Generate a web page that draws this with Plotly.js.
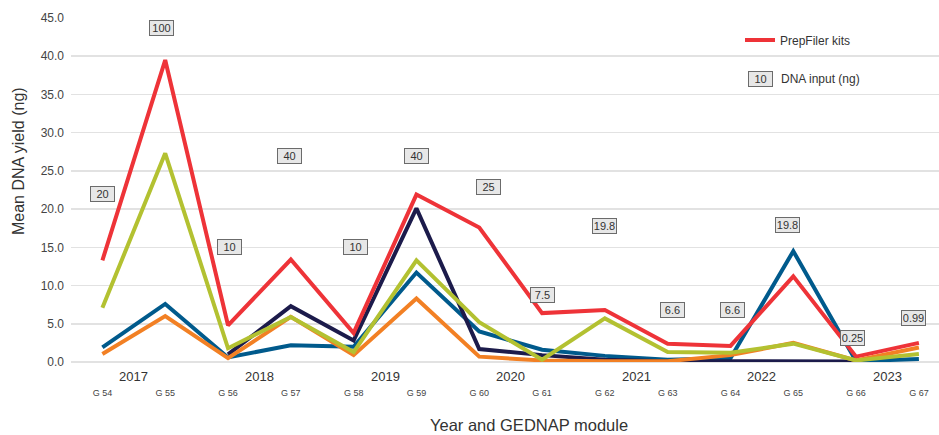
<!DOCTYPE html>
<html>
<head>
<meta charset="utf-8">
<script src="https://cdn.plot.ly/plotly-3.0.1.min.js"></script>
<style>html,body{margin:0;padding:0;background:#fff;}#chart{width:939px;height:435px;}</style>
</head>
<body>
<div id="chart"></div>
<script>
// ---- data ----
const modules = ["G 54","G 55","G 56","G 57","G 58","G 59","G 60","G 61","G 62","G 63","G 64","G 65","G 66","G 67"];
const years = ["2017","2018","2019","2020","2021","2022","2023"];
const prepFiler = [13.3, 39.5, 4.8, 13.4, 3.8, 21.9, 17.6, 6.4, 6.8, 2.4, 2.1, 11.2, 0.7, 2.5];
const seriesBlue = [1.9, 7.6, 0.6, 2.2, 2.0, 11.7, 4.0, 1.6, 0.8, 0.3, 0.5, 14.5, 0.1, 0.4];
const seriesNavy = [null, null, 1.0, 7.3, 2.8, 20.1, 1.7, 0.9, 0.3, 0.1, 0.1, 0.05, 0.05, null];
const seriesOrange = [1.05, 6.0, 0.5, 5.9, 0.9, 8.3, 0.7, 0.2, 0.1, 0.1, 0.9, 2.5, 0.2, 1.9];
const seriesGreen = [7.1, 27.3, 1.8, 5.9, 1.3, 13.3, 5.2, 0.3, 5.7, 1.3, 1.2, 2.4, 0.2, 1.05];
const dnaInput = ["20","100","10","40","10","40","25","7.5","19.8","6.6","6.6","19.8","0.25","0.99"];

// ---- label layout (positions of the DNA-input boxes) ----
const inputLabelY = [22.0, 43.7, 15.0, 27.0, 15.0, 27.0, 22.9, 8.8, 17.8, 6.8, 6.8, 17.9, 3.1, 5.8];
const inputLabelShift = [0, -4, 1, -1, 2, 0, 9, 0, 0, 5, 2, -6, -4, -5];

const FONT = "Liberation Sans, Arial, Helvetica, sans-serif";

function line(y, color, name, show) {
  return {
    type: "scatter", mode: "lines", x: modules, y: y, name: name,
    showlegend: show, connectgaps: false,
    line: {color: color, width: 4}, hoverinfo: "x+y"
  };
}

const traces = [
  line(seriesBlue, "#005a8c", "Series 2", false),
  line(seriesNavy, "#1c1b4b", "Series 3", false),
  line(prepFiler, "#ee3338", "PrepFiler kits", true),
  line(seriesOrange, "#f28024", "Series 4", false),
  line(seriesGreen, "#b3c131", "Series 5", false)
];

const annotations = [];
dnaInput.forEach((t, i) => {
  annotations.push({
    x: modules[i], y: inputLabelY[i], xref: "x", yref: "y", text: t,
    showarrow: false, xshift: inputLabelShift[i],
    font: {family: FONT, size: 11, color: "#333"},
    bgcolor: "#e7e7e7", bordercolor: "#6b6b6b", borderwidth: 1, borderpad: 1,
    width: 21, height: 12
  });
});
years.forEach((t, i) => {
  annotations.push({
    x: 2 * i + 0.5, y: 0, xref: "x", yref: "paper", yanchor: "middle",
    yshift: -14, text: t, showarrow: false,
    font: {family: FONT, size: 13, color: "#333"}
  });
});
// legend: DNA input box
annotations.push({
  x: 760, y: 79, xref: "paper", yref: "paper", text: "10", showarrow: false,
  font: {family: FONT, size: 11, color: "#333"},
  bgcolor: "#e7e7e7", bordercolor: "#6b6b6b", borderwidth: 1, borderpad: 1,
  width: 21, height: 12
});
annotations.push({
  x: 779, y: 79, xref: "paper", yref: "paper", xanchor: "left", text: "DNA input (ng)", showarrow: false,
  font: {family: FONT, size: 12, color: "#333"}
});
// axis titles
annotations.push({
  x: 18, y: 161, xref: "paper", yref: "paper", text: "Mean DNA yield (ng)", textangle: -90,
  showarrow: false, font: {family: FONT, size: 16, color: "#333"}
});
annotations.push({
  x: 529, y: 425, xref: "paper", yref: "paper", text: "Year and GEDNAP module",
  showarrow: false, font: {family: FONT, size: 16.5, color: "#333"}
});

// convert paper-pixel annotations to paper fractions
const W = 939, H = 435, ML = 71, MR = 0, MT = 18, MB = 73;
const pw = W - ML - MR, ph = H - MT - MB;
annotations.forEach(a => {
  if (a.xref === "paper" && a.x > 1.5) {
    a.x = (a.x - ML) / pw;
    if (!a.xanchor) a.xanchor = "center";
  }
  if (a.yref === "paper" && a.y > 1.5) {
    a.y = (H - MB - a.y) / ph;
    a.yanchor = "middle";
  }
});

const layout = {
  width: W, height: H,
  margin: {l: ML, r: MR, t: MT, b: MB},
  paper_bgcolor: "#fff", plot_bgcolor: "#fff",
  font: {family: FONT, color: "#444"},
  showlegend: true,
  legend: {
    x: (740 - ML) / pw, y: (H - MB - 40) / ph, xanchor: "left", yanchor: "middle",
    bgcolor: "rgba(0,0,0,0)", font: {family: FONT, size: 12, color: "#333"}
  },
  xaxis: {
    type: "category", range: [-0.5, 13.32], showgrid: false, zeroline: false,
    showline: false, ticks: "", ticklabelstandoff: 24,
    tickfont: {family: FONT, size: 9, color: "#444"}, fixedrange: true
  },
  yaxis: {
    range: [0, 45], tickvals: [0,5,10,15,20,25,30,35,40,45], tickformat: ".1f",
    showgrid: true, gridcolor: "#e2e2e2", gridwidth: 1.5,
    zeroline: true, zerolinecolor: "#e2e2e2", zerolinewidth: 1.5,
    showline: false, ticks: "", ticklabelstandoff: 6,
    tickfont: {family: FONT, size: 12, color: "#444"}, fixedrange: true
  },
  annotations: annotations
};

Plotly.newPlot("chart", traces, layout, {displayModeBar: false, staticPlot: true});
</script>
</body>
</html>
